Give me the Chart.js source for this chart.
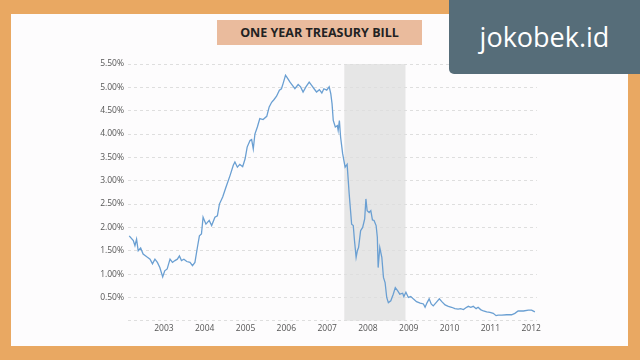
<!DOCTYPE html>
<html>
<head>
<meta charset="utf-8">
<title>One Year Treasury Bill</title>
<script src="https://cdn.jsdelivr.net/npm/chart.js@4.4.1/dist/chart.umd.min.js"></script>
<style>
  html, body { margin: 0; padding: 0; }
  body {
    width: 640px; height: 360px; position: relative; overflow: hidden;
    background: #e9a862; font-family: "Open Sans", sans-serif;
  }
  .panel { position: absolute; left: 11px; top: 14px; width: 617px; height: 332px; background: #fdfcfd; }
  .title {
    position: absolute; left: 217px; top: 20px; width: 205px; height: 25px;
    background: #eabb9d; color: #222; font-weight: bold; font-size: 12.5px;
    line-height: 25px; text-align: center;
  }
  .brand {
    position: absolute; left: 449px; top: 0; width: 191px; height: 74px; z-index: 2;
    background: #566d79; border-bottom-left-radius: 5px; color: #fff;
    font-size: 27px; line-height: 74px; text-align: center;
  }
  .chart-box { position: absolute; left: 84px; top: 54px; width: 460px; height: 286px; z-index: 1; }
</style>
</head>
<body>
<div class="panel"></div>
<div class="title">ONE YEAR TREASURY BILL</div>
<div class="brand">jokobek.id</div>
<div class="chart-box"><canvas id="rate-chart"></canvas></div>

<script>
// tick labels
const yearLabels = [2003, 2004, 2005, 2006, 2007, 2008, 2009, 2010, 2011, 2012];
const rateTicks = [0, 0.5, 1, 1.5, 2, 2.5, 3, 3.5, 4, 4.5, 5, 5.5];

// recession shading (decimal years)
const recessionStart = 2007.92;
const recessionEnd = 2009.42;

// decimal year of each reading
const dates = [
  2002.65, 2002.75, 2002.79, 2002.83, 2002.87, 2002.93, 2002.99, 2003.08, 2003.16, 2003.22,
  2003.28, 2003.34, 2003.40, 2003.47, 2003.52, 2003.58, 2003.65, 2003.71, 2003.77, 2003.83,
  2003.88, 2003.93, 2003.99, 2004.06, 2004.14, 2004.20, 2004.26, 2004.32, 2004.37, 2004.42,
  2004.46, 2004.53, 2004.61, 2004.67, 2004.75, 2004.81, 2004.86, 2004.94, 2005.02, 2005.12,
  2005.20, 2005.24, 2005.30, 2005.36, 2005.43, 2005.49, 2005.54, 2005.61, 2005.65, 2005.69,
  2005.73, 2005.79, 2005.85, 2005.93, 2006.02, 2006.08, 2006.14, 2006.20, 2006.26, 2006.33,
  2006.38, 2006.42, 2006.48, 2006.52, 2006.59, 2006.65, 2006.71, 2006.79, 2006.85, 2006.91,
  2006.98, 2007.06, 2007.12, 2007.18, 2007.24, 2007.31, 2007.37, 2007.42, 2007.49, 2007.55,
  2007.59, 2007.62, 2007.65, 2007.70, 2007.75, 2007.77, 2007.80, 2007.83, 2007.88, 2007.94,
  2007.99, 2008.04, 2008.10, 2008.14, 2008.17, 2008.21, 2008.24, 2008.27, 2008.32, 2008.37,
  2008.42, 2008.45, 2008.48, 2008.53, 2008.57, 2008.61, 2008.65, 2008.70, 2008.73, 2008.75,
  2008.79, 2008.84, 2008.88, 2008.92, 2008.96, 2009.00, 2009.06, 2009.12, 2009.17, 2009.23,
  2009.28, 2009.35, 2009.38, 2009.43, 2009.49, 2009.55, 2009.61, 2009.69, 2009.78, 2009.86,
  2009.90, 2009.95, 2010.00, 2010.05, 2010.10, 2010.17, 2010.25, 2010.31, 2010.39, 2010.47,
  2010.55, 2010.63, 2010.71, 2010.77, 2010.84, 2010.90, 2010.96, 2011.02, 2011.08, 2011.15,
  2011.20, 2011.26, 2011.33, 2011.41, 2011.49, 2011.57, 2011.64, 2011.69, 2011.78, 2011.90,
  2012.02, 2012.10, 2012.18, 2012.31, 2012.43, 2012.51, 2012.59
];

// one year T-bill yield, percent
const rates = [
  1.82, 1.72, 1.61, 1.75, 1.50, 1.56, 1.43, 1.37, 1.32, 1.22,
  1.32, 1.25, 1.14, 0.94, 1.07, 1.11, 1.32, 1.25, 1.29, 1.32,
  1.39, 1.29, 1.32, 1.27, 1.25, 1.18, 1.25, 1.57, 1.82, 1.86,
  2.22, 2.07, 2.15, 2.04, 2.22, 2.25, 2.50, 2.65, 2.86, 3.11,
  3.33, 3.40, 3.29, 3.35, 3.30, 3.47, 3.72, 3.86, 3.88, 3.68,
  4.00, 4.15, 4.33, 4.31, 4.38, 4.58, 4.68, 4.74, 4.81, 4.94,
  4.97, 5.08, 5.26, 5.21, 5.11, 5.04, 4.97, 5.06, 5.01, 4.90,
  5.01, 5.11, 5.04, 4.97, 4.90, 4.95, 4.88, 4.97, 4.94, 5.01,
  4.86, 4.65, 4.29, 4.15, 4.18, 4.08, 4.29, 3.93, 3.58, 3.29,
  3.35, 2.72, 2.07, 2.04, 1.72, 1.36, 1.50, 1.57, 1.93, 2.00,
  2.18, 2.61, 2.36, 2.32, 2.36, 2.16, 2.15, 2.04, 1.79, 1.14,
  1.57, 1.36, 0.93, 0.82, 0.50, 0.39, 0.43, 0.57, 0.71, 0.64,
  0.57, 0.59, 0.52, 0.61, 0.50, 0.52, 0.47, 0.41, 0.38, 0.36,
  0.29, 0.39, 0.47, 0.36, 0.32, 0.39, 0.47, 0.41, 0.34, 0.31,
  0.29, 0.26, 0.25, 0.26, 0.24, 0.28, 0.31, 0.29, 0.31, 0.26,
  0.29, 0.24, 0.21, 0.19, 0.18, 0.16, 0.11, 0.12, 0.12, 0.13,
  0.13, 0.16, 0.21, 0.21, 0.23, 0.23, 0.19
];

// grey band behind the grid for the recession
const recessionBand = {
  id: "recessionBand",
  beforeDraw(chart) {
    const { ctx, chartArea, scales } = chart;
    const x1 = scales.x.getPixelForValue(recessionStart);
    const x2 = scales.x.getPixelForValue(recessionEnd);
    ctx.save();
    ctx.fillStyle = "#e6e6e6";
    ctx.fillRect(x1, chartArea.top, x2 - x1, chartArea.bottom - chartArea.top);
    ctx.restore();
  },
};

document.addEventListener("DOMContentLoaded", function () {
  const ctx = document.getElementById("rate-chart").getContext("2d");
  const tickFont = { family: "'Open Sans', sans-serif", size: 8.5 };

  new Chart(ctx, {
    type: "line",
    data: {
      datasets: [
        {
          label: "One Year Treasury Bill",
          data: dates.map((d, i) => ({ x: d, y: rates[i] })),
          borderColor: "#6a9fd2",
          borderWidth: 1.3,
          pointRadius: 0,
          tension: 0,
          fill: false,
        },
      ],
    },
    options: {
      responsive: true,
      maintainAspectRatio: false,
      animation: false,
      layout: { padding: { top: 10, right: 7, bottom: 3, left: 0 } },
      plugins: {
        legend: { display: false },
        tooltip: { enabled: false },
      },
      scales: {
        x: {
          type: "linear",
          min: 2002.62,
          max: 2012.64,
          afterBuildTicks: (axis) => {
            // year labels sit in the middle of each year
            axis.ticks = yearLabels.map((y) => ({ value: y + 0.5 }));
          },
          ticks: {
            autoSkip: false,
            maxRotation: 0,
            padding: 3,
            color: "#555",
            font: tickFont,
            callback: (v) => String(Math.floor(v)),
          },
          grid: { display: false, drawTicks: false },
          border: { display: false },
        },
        y: {
          min: 0,
          max: 5.5,
          afterBuildTicks: (axis) => {
            axis.ticks = rateTicks.map((v) => ({ value: v }));
          },
          afterFit: (axis) => {
            axis.width = 44;
          },
          ticks: {
            padding: 4,
            color: "#555",
            font: tickFont,
            callback: (v) => (v === 0 ? "" : v.toFixed(2) + "%"),
          },
          grid: { color: "#dedede", drawTicks: false },
          border: { display: false, dash: [3, 3] },
        },
      },
    },
    plugins: [recessionBand],
  });
});
</script>
</body>
</html>
